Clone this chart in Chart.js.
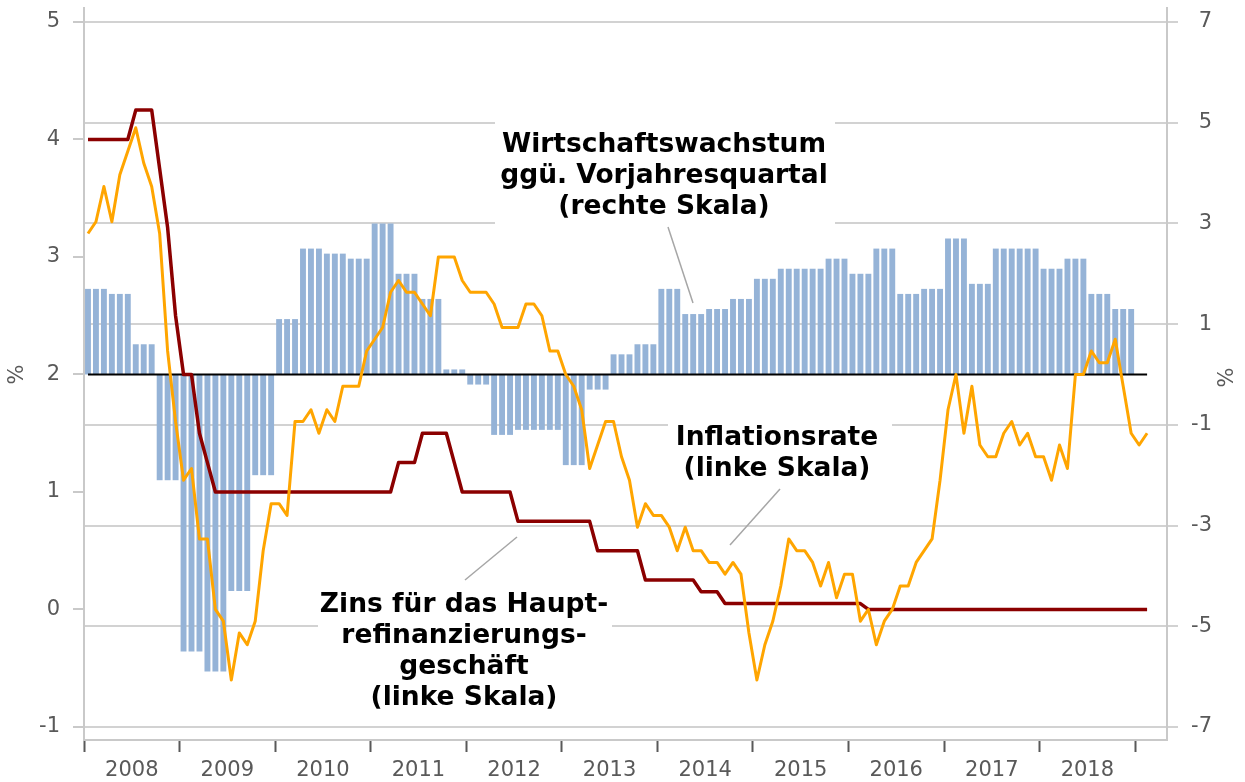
<!DOCTYPE html>
<html>
<head>
<meta charset="utf-8">
<script src="https://cdn.jsdelivr.net/npm/chart.js@4.4.0/dist/chart.umd.min.js"></script>
<style>
  body { margin: 0; background: #fff; }
  #wrap { width: 1245px; height: 782px; }
</style>
</head>
<body>
<div id="wrap"><canvas id="chart"></canvas></div>
<script>
// months on the axis: Jan 2008 .. Apr 2019
const years = ['2008', '2009', '2010', '2011', '2012', '2013', '2014', '2015', '2016', '2017', '2018', '2019'];
const monthNames = ['01', '02', '03', '04', '05', '06', '07', '08', '09', '10', '11', '12'];
const monthsShown = 136;

const leftTicks = [-1, 0, 1, 2, 3, 4, 5];
const rightTicks = [-7, -5, -3, -1, 1, 3, 5, 7];

// Inflationsrate, % (monthly, Jan 2008 .. Feb 2019)
const inflation = [
  3.2, 3.3, 3.6, 3.3, 3.7, 3.9, 4.1, 3.8, 3.6, 3.2, 2.2, 1.6,
  1.1, 1.2, 0.6, 0.6, 0.0, -0.1, -0.6, -0.2, -0.3, -0.1, 0.5, 0.9,
  0.9, 0.8, 1.6, 1.6, 1.7, 1.5, 1.7, 1.6, 1.9, 1.9, 1.9, 2.2,
  2.3, 2.4, 2.7, 2.8, 2.7, 2.7, 2.6, 2.5, 3.0, 3.0, 3.0, 2.8,
  2.7, 2.7, 2.7, 2.6, 2.4, 2.4, 2.4, 2.6, 2.6, 2.5, 2.2, 2.2,
  2.0, 1.9, 1.7, 1.2, 1.4, 1.6, 1.6, 1.3, 1.1, 0.7, 0.9, 0.8,
  0.8, 0.7, 0.5, 0.7, 0.5, 0.5, 0.4, 0.4, 0.3, 0.4, 0.3, -0.2,
  -0.6, -0.3, -0.1, 0.2, 0.6, 0.5, 0.5, 0.4, 0.2, 0.4, 0.1, 0.3,
  0.3, -0.1, 0.0, -0.3, -0.1, 0.0, 0.2, 0.2, 0.4, 0.5, 0.6, 1.1,
  1.7, 2.0, 1.5, 1.9, 1.4, 1.3, 1.3, 1.5, 1.6, 1.4, 1.5, 1.3,
  1.3, 1.1, 1.4, 1.2, 2.0, 2.0, 2.2, 2.1, 2.1, 2.3, 1.9, 1.5,
  1.4, 1.5
];

// Zins fuer das Hauptrefinanzierungsgeschaeft, % (monthly)
const refiRate = [
  4.0, 4.0, 4.0, 4.0, 4.0, 4.0, 4.25, 4.25, 4.25, 3.75, 3.25, 2.5,
  2.0, 2.0, 1.5, 1.25, 1.0, 1.0, 1.0, 1.0, 1.0, 1.0, 1.0, 1.0,
  1.0, 1.0, 1.0, 1.0, 1.0, 1.0, 1.0, 1.0, 1.0, 1.0, 1.0, 1.0,
  1.0, 1.0, 1.0, 1.25, 1.25, 1.25, 1.5, 1.5, 1.5, 1.5, 1.25, 1.0,
  1.0, 1.0, 1.0, 1.0, 1.0, 1.0, 0.75, 0.75, 0.75, 0.75, 0.75, 0.75,
  0.75, 0.75, 0.75, 0.75, 0.5, 0.5, 0.5, 0.5, 0.5, 0.5, 0.25, 0.25,
  0.25, 0.25, 0.25, 0.25, 0.25, 0.15, 0.15, 0.15, 0.05, 0.05, 0.05, 0.05,
  0.05, 0.05, 0.05, 0.05, 0.05, 0.05, 0.05, 0.05, 0.05, 0.05, 0.05, 0.05,
  0.05, 0.05, 0, 0, 0, 0, 0, 0, 0, 0, 0, 0,
  0, 0, 0, 0, 0, 0, 0, 0, 0, 0, 0, 0,
  0, 0, 0, 0, 0, 0, 0, 0, 0, 0, 0, 0,
  0, 0
];

// Wirtschaftswachstum ggü. Vorjahresquartal, % (quarterly, 2008 Q1 .. 2018 Q4)
const gdpQuarterly = [
  1.7, 1.6, 0.6, -2.1,
  -5.5, -5.9, -4.3, -2.0,
  1.1, 2.5, 2.4, 2.3,
  3.0, 2.0, 1.5, 0.1,
  -0.2, -1.2, -1.1, -1.1,
  -1.8, -0.3, 0.4, 0.6,
  1.7, 1.2, 1.3, 1.5,
  1.9, 2.1, 2.1, 2.3,
  2.0, 2.5, 1.6, 1.7,
  2.7, 1.8, 2.5, 2.5,
  2.1, 2.3, 1.6, 1.3
];

const labels = years.flatMap(y => monthNames.map(m => y + '-' + m)).slice(0, monthsShown);
// each quarter is shown as three monthly bars
const gdpMonthly = gdpQuarterly.flatMap(v => [v, v, v]);

const tickFont = { family: '"DejaVu Sans", Verdana, sans-serif', size: 21 };
const tickColor = '#595959';
const lineGray = '#c9c9c9';

const callouts = [
  {
    lines: ['Wirtschaftswachstum', 'ggü. Vorjahresquartal', '(rechte Skala)'],
    box: [495, 114, 340, 116], cx: 664, top: 152, leader: [668, 227, 693, 303]
  },
  {
    lines: ['Inflationsrate', '(linke Skala)'],
    box: [668, 414, 224, 74], cx: 777, top: 445, leader: [780, 489, 730, 545]
  },
  {
    lines: ['Zins für das Haupt-', 'refinanzierungs-', 'geschäft', '(linke Skala)'],
    box: [318, 584, 294, 132], cx: 464, top: 612, leader: [517, 537, 465, 580]
  }
];

const extras = {
  id: 'extras',
  beforeDatasetsDraw(chart) {
    const ctx = chart.ctx;
    ctx.save();
    callouts.forEach(c => {
      ctx.fillStyle = '#fff';
      ctx.fillRect(c.box[0], c.box[1], c.box[2], c.box[3]);
      ctx.strokeStyle = '#a6a6a6';
      ctx.lineWidth = 1.5;
      ctx.beginPath();
      ctx.moveTo(c.leader[0], c.leader[1]);
      ctx.lineTo(c.leader[2], c.leader[3]);
      ctx.stroke();
      ctx.fillStyle = '#000';
      ctx.font = 'bold 26.5px "DejaVu Sans", Verdana, sans-serif';
      ctx.textAlign = 'center';
      ctx.textBaseline = 'alphabetic';
      c.lines.forEach((t, i) => ctx.fillText(t, c.cx, c.top + i * 31));
    });
    ctx.restore();
  },
  afterDatasetDraw(chart, args) {
    if (chart.data.datasets[args.index].type !== 'bar') return;
    const { ctx, scales } = chart;
    const y0 = scales.y2.getPixelForValue(0);
    ctx.save();
    ctx.strokeStyle = '#000';
    ctx.lineWidth = 2;
    ctx.beginPath();
    ctx.moveTo(scales.x.getPixelForValue(0), y0);
    ctx.lineTo(scales.x.getPixelForValue(inflation.length - 1), y0);
    ctx.stroke();
    ctx.restore();
  },
  afterDraw(chart) {
    const { ctx, scales } = chart;
    const yMid = scales.y2.getPixelForValue(0);
    ctx.save();
    ctx.fillStyle = tickColor;
    ctx.font = '21px "DejaVu Sans", Verdana, sans-serif';
    ctx.textAlign = 'center';
    ctx.textBaseline = 'middle';
    [[18, yMid], [1228, yMid + 3]].forEach(p => {
      ctx.save();
      ctx.translate(p[0], p[1]);
      ctx.rotate(-Math.PI / 2);
      ctx.fillText('%', 0, 0);
      ctx.restore();
    });
    ctx.restore();
  }
};

const halfMonth = (1167 - 84) / monthsShown / 2;

// keep the plot box fixed: no extra room for half tick labels
function noEdgePadding(s) {
  s.paddingTop = 0;
  s.paddingBottom = 0;
  s.paddingLeft = 0;
  s.paddingRight = 0;
}

new Chart(document.getElementById('chart'), {
  type: 'bar',
  data: {
    labels: labels,
    datasets: [
      {
        type: 'line',
        label: 'Inflationsrate',
        data: inflation,
        borderColor: '#FFA500',
        borderWidth: 3,
        pointRadius: 0,
        borderJoinStyle: 'round',
        yAxisID: 'y',
        order: 0
      },
      {
        type: 'line',
        label: 'Zins für das Hauptrefinanzierungsgeschäft',
        data: refiRate,
        borderColor: '#8B0000',
        borderWidth: 3.5,
        pointRadius: 0,
        borderJoinStyle: 'round',
        yAxisID: 'y',
        order: 1
      },
      {
        type: 'bar',
        label: 'Wirtschaftswachstum ggü. Vorjahresquartal',
        data: gdpMonthly,
        backgroundColor: '#95B3D7',
        barPercentage: 0.74,
        categoryPercentage: 1,
        yAxisID: 'y2',
        order: 2
      }
    ]
  },
  options: {
    responsive: true,
    maintainAspectRatio: false,
    animation: false,
    layout: { padding: { top: 8, right: 33, left: 0, bottom: 0 } },
    plugins: {
      legend: { display: false },
      tooltip: { enabled: false }
    },
    scales: {
      x: {
        type: 'category',
        offset: true,
        grid: {
          offset: true,
          drawOnChartArea: false,
          tickLength: 12,
          tickWidth: 2,
          tickColor: c => c.index % 12 === 0 ? tickColor : 'rgba(0,0,0,0)'
        },
        border: { color: lineGray, width: 2 },
        ticks: {
          autoSkip: false,
          maxRotation: 0,
          minRotation: 0,
          padding: 6,
          labelOffset: -halfMonth,
          font: tickFont,
          color: tickColor,
          callback: (v, i) => i % 12 === 6 ? labels[i].slice(0, 4) : ''
        },
        afterFit: s => { s.height = 42; noEdgePadding(s); }
      },
      y: {
        position: 'left',
        min: -1.111,
        max: 5.119,
        afterBuildTicks: s => { s.ticks = leftTicks.map(v => ({ value: v })); },
        grid: { drawOnChartArea: false, tickLength: 11, color: lineGray, lineWidth: 2 },
        border: { color: lineGray, width: 2 },
        ticks: { padding: 13, font: tickFont, color: tickColor },
        afterFit: s => { s.width = 84; noEdgePadding(s); }
      },
      y2: {
        position: 'right',
        min: -7.259,
        max: 7.278,
        afterBuildTicks: s => { s.ticks = rightTicks.map(v => ({ value: v })); },
        grid: { drawOnChartArea: true, tickLength: 11, color: '#d2d2d2', lineWidth: 2 },
        border: { color: lineGray, width: 2 },
        ticks: { crossAlign: 'far', font: tickFont, color: tickColor },
        afterFit: s => { s.width = 45; noEdgePadding(s); }
      }
    }
  },
  plugins: [extras]
});
</script>
</body>
</html>
